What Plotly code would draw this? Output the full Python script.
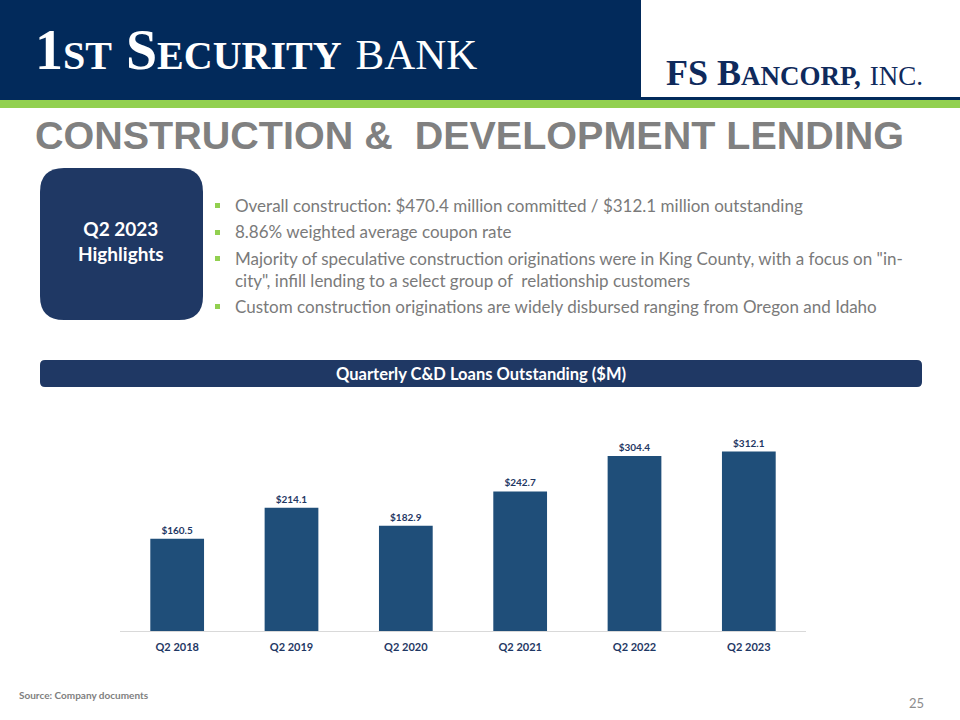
import plotly.graph_objects as go

# ---- data ----
quarters = ["Q2 2018", "Q2 2019", "Q2 2020", "Q2 2021", "Q2 2022", "Q2 2023"]
outstanding = [160.5, 214.1, 182.9, 242.7, 304.4, 312.1]
bullets = [
    "Overall construction: $470.4 million committed / $312.1 million outstanding",
    "8.86% weighted average coupon rate",
    "Majority of speculative construction originations were in King County, with a focus on \"in-<br>city\", infill lending to a select group of  relationship customers",
    "Custom construction originations are widely disbursed ranging from Oregon and Idaho",
]
chart_title = "Quarterly C&D Loans Outstanding ($M)"
page_title = "CONSTRUCTION &  DEVELOPMENT LENDING"

W, H = 960, 720
NAVY = "#1f3864"
HEADER = "#022a5b"
BAR = "#1f4e79"
GREEN = "#92d050"
GRAY = "#7a7a7a"
FONT = "Lato, 'Liberation Sans', sans-serif"


def px(x):
    return x / W


def py(y):
    return 1 - y / H


def rounded(x0, y0, x1, y1, r):
    rx, ry = r / W, r / H
    X0, X1 = px(x0), px(x1)
    Yt, Yb = py(y0), py(y1)
    return (f"M {X0+rx},{Yt} L {X1-rx},{Yt} Q {X1},{Yt} {X1},{Yt-ry} "
            f"L {X1},{Yb+ry} Q {X1},{Yb} {X1-rx},{Yb} L {X0+rx},{Yb} "
            f"Q {X0},{Yb} {X0},{Yb+ry} L {X0},{Yt-ry} Q {X0},{Yt} {X0+rx},{Yt} Z")


fig = go.Figure()
fig.add_trace(go.Bar(
    x=quarters, y=outstanding,
    marker=dict(color=BAR, line=dict(width=0)),
    text=[f"${v:.1f}" for v in outstanding],
    textposition="outside",
    textfont=dict(family=FONT, size=10, color=NAVY, weight="bold"),
    cliponaxis=False,
    hoverinfo="skip",
))

shapes = []
# header band
shapes.append(dict(type="rect", xref="paper", yref="paper", x0=0, x1=1, y0=py(101), y1=1,
                   fillcolor=HEADER, line=dict(width=0), layer="below"))
shapes.append(dict(type="rect", xref="paper", yref="paper", x0=px(641), x1=1, y0=py(97), y1=1,
                   fillcolor="white", line=dict(width=0), layer="below"))
shapes.append(dict(type="rect", xref="paper", yref="paper", x0=0, x1=1, y0=py(108), y1=py(100),
                   fillcolor=GREEN, line=dict(width=0), layer="below"))
# highlights box
shapes.append(dict(type="path", xref="paper", yref="paper", path=rounded(40, 168, 203, 320, 24),
                   fillcolor=NAVY, line=dict(width=0), layer="below"))
# chart header bar
shapes.append(dict(type="path", xref="paper", yref="paper", path=rounded(40, 360, 922, 387, 5),
                   fillcolor=NAVY, line=dict(width=0), layer="below"))
# bullet squares
bullet_y = [205, 232, 258, 306]
for y in bullet_y:
    shapes.append(dict(type="rect", xref="paper", yref="paper", x0=px(215), x1=px(220),
                       y0=py(y + 3), y1=py(y - 2), fillcolor=GREEN, line=dict(width=0)))

ann = []
# logos
ann.append(dict(xref="paper", yref="paper", x=px(33), y=py(50), xanchor="left", yanchor="middle",
                showarrow=False,
                text="<b>1<span style='font-size:40px'>ST</span> S<span style='font-size:40px'>ECURITY</span></b>"
                     " <span style='font-size:43px'>BANK</span>",
                font=dict(family="'Liberation Serif', serif", size=56, color="white")))
ann.append(dict(xref="paper", yref="paper", x=px(664), y=py(73), xanchor="left", yanchor="middle",
                showarrow=False,
                text="<b>FS B<span style='font-size:27px'>ANCORP,</span></b> <span style='font-size:27px'>INC.</span>",
                font=dict(family="'Liberation Serif', serif", size=36, color="#0f2a5c")))
# page title
ann.append(dict(xref="paper", yref="paper", x=px(33), y=py(135), xanchor="left", yanchor="middle",
                showarrow=False, text=f"<b>{page_title}</b>",
                font=dict(family="'Liberation Sans', Arial, sans-serif", size=39.5, color="#808080")))
# highlights box text
ann.append(dict(xref="paper", yref="paper", x=px(121), y=py(241), xanchor="center", yanchor="middle",
                showarrow=False, text="<b>Q2 2023<br>Highlights</b>",
                font=dict(family=FONT, size=19, color="white")))
# bullets
bullet_text_y = [205, 232, 269, 306]
for t, y in zip(bullets, bullet_text_y):
    ann.append(dict(xref="paper", yref="paper", x=px(233), y=py(y), xanchor="left", yanchor="middle",
                    showarrow=False, text=t, align="left",
                    font=dict(family=FONT, size=17, color=GRAY)))
# chart header text
ann.append(dict(xref="paper", yref="paper", x=px(481), y=py(373.5), xanchor="center", yanchor="middle",
                showarrow=False, text=f"<b>{chart_title}</b>",
                font=dict(family=FONT, size=16.5, color="white")))
# footer
ann.append(dict(xref="paper", yref="paper", x=px(17), y=py(695), xanchor="left", yanchor="middle",
                showarrow=False, text="<b>Source: Company documents</b>",
                font=dict(family=FONT, size=10, color="#808080")))
ann.append(dict(xref="paper", yref="paper", x=px(926), y=py(703), xanchor="right", yanchor="middle",
                showarrow=False, text="25",
                font=dict(family=FONT, size=13, color="#8c8c8c")))

baseline_px, top_px = 631, 402
scale = 179.5 / 312.1  # px per $M
fig.update_layout(
    width=W, height=H,
    margin=dict(l=0, r=0, t=0, b=0),
    paper_bgcolor="white", plot_bgcolor="white",
    showlegend=False,
    bargap=0.53,
    shapes=shapes,
    annotations=ann,
    xaxis=dict(domain=[px(120), px(806)], showline=True, linecolor="#d9d9d9", linewidth=1,
               ticks="", showgrid=False, zeroline=False,
               tickfont=dict(family=FONT, size=11, color=NAVY, weight="bold"), ticklabelstandoff=6),
    yaxis=dict(domain=[py(baseline_px), py(top_px)], range=[0, (baseline_px - top_px) / scale],
               visible=False, showgrid=False, zeroline=False),
)

fig.write_html("out.html", config={"displayModeBar": False},
               post_script="document.body.style.margin='0';document.body.style.overflow='hidden';")
